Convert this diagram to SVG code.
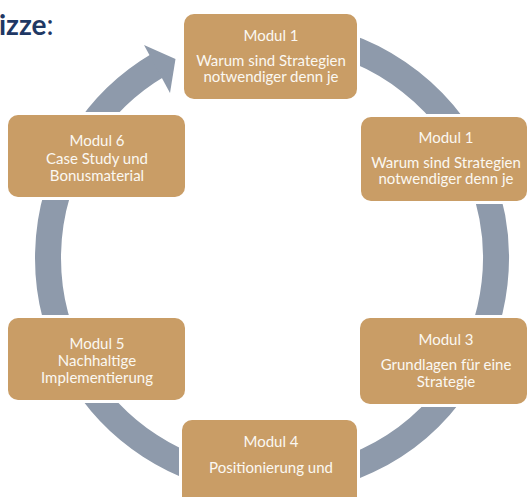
<svg xmlns="http://www.w3.org/2000/svg" width="528" height="497" viewBox="0 0 528 497">
  <style>
    .box { fill: #C99D66; stroke: #FFFFFF; stroke-width: 6; paint-order: stroke fill; }
    .lbl { font-family: Lato, "Open Sans", "DejaVu Sans", sans-serif; font-size: 15px; fill: #FBF8F2; text-anchor: middle; }
    .ring { fill: none; stroke: #8E9AAB; stroke-width: 26; }
    .head { fill: #8E9AAB; }
    .title { font-family: Lato, "Open Sans", sans-serif; font-size: 28px; fill: #1F3864; }
  </style>
  <rect width="528" height="497" fill="#FFFFFF"/>
  <text class="title" x="-1" y="35"><tspan font-weight="bold">izze</tspan><tspan>:</tspan></text>
  <g id="connectors">
    <path class="ring" d="M 195.4 47.5 A 224 224 0 1 1 158.3 65.0"/>
    <polygon class="head" points="144,45 175.5,59 170,93"/>
  </g>
  <g id="node-top">
    <rect class="box" x="184" y="14" width="173" height="85" rx="10"/>
    <text class="lbl" x="271" y="40.5">Modul 1</text>
    <text class="lbl" x="271" y="65.5">Warum sind Strategien</text>
    <text class="lbl" x="271" y="82">notwendiger denn je</text>
  </g>
  <g id="node-right1">
    <rect class="box" x="361" y="117" width="166" height="84" rx="10"/>
    <text class="lbl" x="446" y="142.5">Modul 1</text>
    <text class="lbl" x="446" y="167.5">Warum sind Strategien</text>
    <text class="lbl" x="446" y="184">notwendiger denn je</text>
  </g>
  <g id="node-modul3">
    <rect class="box" x="360" y="318" width="167" height="86" rx="10"/>
    <text class="lbl" x="446" y="344.5">Modul 3</text>
    <text class="lbl" x="446" y="370">Grundlagen für eine</text>
    <text class="lbl" x="446" y="386.5">Strategie</text>
  </g>
  <g id="node-modul4">
    <rect class="box" x="182" y="420" width="175" height="90" rx="10"/>
    <text class="lbl" x="271" y="447">Modul 4</text>
    <text class="lbl" x="271" y="473">Positionierung und</text>
  </g>
  <g id="node-modul5">
    <rect class="box" x="8" y="318" width="177" height="82" rx="10"/>
    <text class="lbl" x="97" y="349">Modul 5</text>
    <text class="lbl" x="97" y="366">Nachhaltige</text>
    <text class="lbl" x="97" y="383">Implementierung</text>
  </g>
  <g id="node-modul6">
    <rect class="box" x="8" y="115" width="177" height="82" rx="10"/>
    <text class="lbl" x="97" y="146">Modul 6</text>
    <text class="lbl" x="97" y="163.5">Case Study und</text>
    <text class="lbl" x="97" y="181">Bonusmaterial</text>
  </g>
</svg>
